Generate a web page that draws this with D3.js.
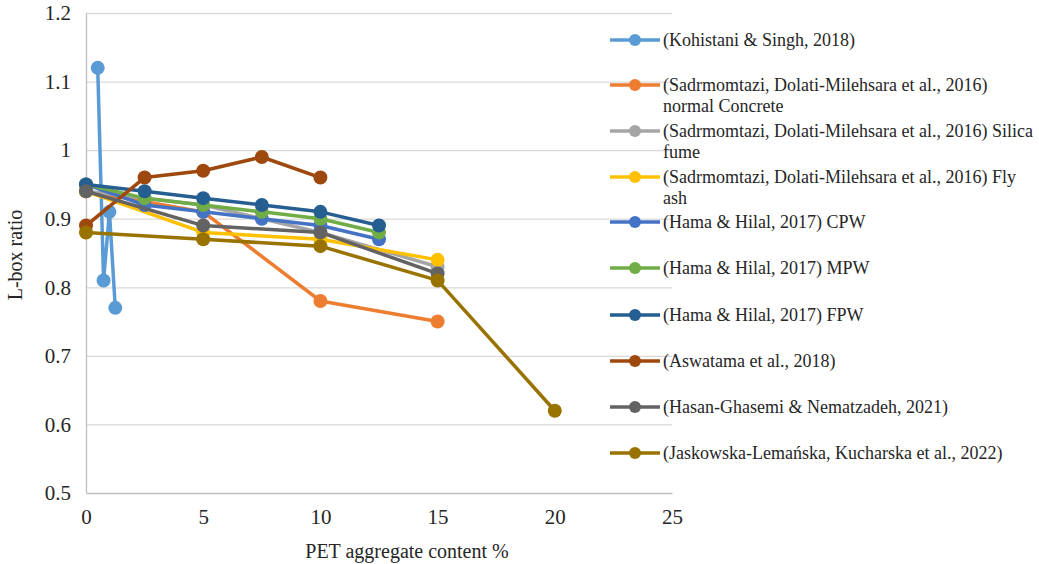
<!DOCTYPE html>
<html>
<head>
<meta charset="utf-8">
<script src="https://cdn.jsdelivr.net/npm/d3@7"></script>
<style>
  html, body { margin: 0; padding: 0; background: #fff; }
  svg { display: block; }
  text { font-family: "Liberation Serif", "DejaVu Serif", serif; fill: #262626; }
</style>
</head>
<body>
<svg id="chart" width="1039" height="564"></svg>
<script>
// L-box ratio versus PET aggregate content, by study
const seriesNames = [
  ["(Kohistani & Singh, 2018)"],
  ["(Sadrmomtazi, Dolati-Milehsara et al., 2016)", "normal Concrete"],
  ["(Sadrmomtazi, Dolati-Milehsara et al., 2016) Silica", "fume"],
  ["(Sadrmomtazi, Dolati-Milehsara et al., 2016) Fly", "ash"],
  ["(Hama & Hilal, 2017) CPW"],
  ["(Hama & Hilal, 2017) MPW"],
  ["(Hama & Hilal, 2017) FPW"],
  ["(Aswatama et al., 2018)"],
  ["(Hasan-Ghasemi & Nematzadeh, 2021)"],
  ["(Jaskowska-Lemańska, Kucharska et al., 2022)"]
];
const seriesColors = ["#5B9BD5", "#ED7D31", "#A5A5A5", "#FFC000", "#4472C4",
                      "#70AD47", "#255E91", "#9E480E", "#636363", "#997300"];

const xKohistani = [0.5, 0.75, 1.0, 1.25];
const yKohistani = [1.12, 0.81, 0.91, 0.77];
const xSadrmomtazi = [0, 5, 10, 15];
const yNormal = [0.94, 0.91, 0.78, 0.75];
const ySilica = [0.94, 0.92, 0.88, 0.83];
const yFlyAsh = [0.94, 0.88, 0.87, 0.84];
const xHama = [0, 2.5, 5, 7.5, 10, 12.5];
const yCPW = [0.95, 0.92, 0.91, 0.90, 0.89, 0.87];
const yMPW = [0.95, 0.93, 0.92, 0.91, 0.90, 0.88];
const yFPW = [0.95, 0.94, 0.93, 0.92, 0.91, 0.89];
const xAswatama = [0, 2.5, 5, 7.5, 10];
const yAswatama = [0.89, 0.96, 0.97, 0.99, 0.96];
const xHasan = [0, 5, 10, 15];
const yHasan = [0.94, 0.89, 0.88, 0.82];
const xJaskowska = [0, 5, 10, 15, 20];
const yJaskowska = [0.88, 0.87, 0.86, 0.81, 0.62];

const xTicks = [0, 5, 10, 15, 20, 25];
const yTicks = [0.5, 0.6, 0.7, 0.8, 0.9, 1.0, 1.1, 1.2];
const xTitle = "PET aggregate content %";
const yTitle = "L-box ratio";

const seriesXY = [
  [xKohistani, yKohistani],
  [xSadrmomtazi, yNormal],
  [xSadrmomtazi, ySilica],
  [xSadrmomtazi, yFlyAsh],
  [xHama, yCPW],
  [xHama, yMPW],
  [xHama, yFPW],
  [xAswatama, yAswatama],
  [xHasan, yHasan],
  [xJaskowska, yJaskowska]
];
const series = seriesXY.map(([xs, ys], i) => ({
  name: seriesNames[i],
  color: seriesColors[i],
  points: xs.map((x, j) => ({ x, y: ys[j] }))
}));

const svg = d3.select("#chart");
const plot = { left: 86, right: 672, top: 13, bottom: 493 };
const fontStack = "'Liberation Serif', 'DejaVu Serif', serif";

const x = d3.scaleLinear().domain([0, 25]).range([plot.left, plot.right]);
const y = d3.scaleLinear().domain([0.5, 1.2]).range([plot.bottom, plot.top]);

// horizontal gridlines
svg.append("g")
  .attr("transform", `translate(${plot.left},0)`)
  .call(d3.axisLeft(y).tickValues(yTicks.filter(v => v > 0.5))
    .tickSize(-(plot.right - plot.left)).tickFormat(""))
  .call(g => g.select(".domain").remove())
  .call(g => g.selectAll("line").attr("stroke", "#D9D9D9").attr("stroke-width", 1.3));

// y axis
svg.append("g")
  .attr("transform", `translate(${plot.left},0)`)
  .call(d3.axisLeft(y).tickValues(yTicks).tickSize(0).tickPadding(15)
    .tickFormat(d => d3.format("")(+d.toFixed(1))))
  .call(g => g.select(".domain").attr("stroke", "#BFBFBF").attr("stroke-width", 1.3))
  .call(g => g.selectAll("text").attr("font-size", 21).attr("fill", "#262626")
    .style("font-family", fontStack));

// x axis
svg.append("g")
  .attr("transform", `translate(0,${plot.bottom})`)
  .call(d3.axisBottom(x).tickValues(xTicks).tickSize(0).tickPadding(16))
  .call(g => g.select(".domain").attr("stroke", "#BFBFBF").attr("stroke-width", 1.3))
  .call(g => g.selectAll("text").attr("font-size", 21).attr("fill", "#262626")
    .style("font-family", fontStack));

// axis titles
svg.append("text")
  .attr("x", 407)
  .attr("y", 558)
  .attr("text-anchor", "middle")
  .attr("font-size", 20)
  .style("font-family", fontStack)
  .text(xTitle);

svg.append("text")
  .attr("transform", `translate(22,${(plot.top + plot.bottom) / 2 + 2}) rotate(-90)`)
  .attr("text-anchor", "middle")
  .attr("font-size", 20)
  .style("font-family", fontStack)
  .text(yTitle);

// series lines and markers
const line = d3.line().x(d => x(d.x)).y(d => y(d.y));
const seriesG = svg.append("g").selectAll("g").data(series).join("g");
seriesG.append("path")
  .attr("d", d => line(d.points))
  .attr("fill", "none")
  .attr("stroke", d => d.color)
  .attr("stroke-width", 3.5)
  .attr("stroke-linejoin", "round");
seriesG.selectAll("circle").data(d => d.points.map(p => ({ ...p, color: d.color })))
  .join("circle")
  .attr("cx", d => x(d.x))
  .attr("cy", d => y(d.y))
  .attr("r", 7)
  .attr("fill", d => d.color);

// legend
const legendY = [40, 85, 131, 177, 222, 268, 315, 361, 407, 453];
const legend = svg.append("g").selectAll("g").data(series).join("g")
  .attr("transform", (d, i) => `translate(610,${legendY[i]})`);
legend.append("line")
  .attr("x1", 0).attr("x2", 50).attr("y1", 0).attr("y2", 0)
  .attr("stroke", d => d.color).attr("stroke-width", 3.5);
legend.append("circle")
  .attr("cx", 25).attr("cy", 0).attr("r", 6)
  .attr("fill", d => d.color);
const maxLabelWidth = 1036 - 663;
legend.append("text")
  .attr("y", 6)
  .attr("font-size", 18)
  .style("font-family", fontStack)
  .selectAll("tspan").data(d => d.name).join("tspan")
  .attr("x", 53)
  .attr("dy", (d, i) => i === 0 ? 0 : 21)
  .text(d => d)
  .each(function () {
    // squeeze any legend line that would run past the right edge
    const w = this.getComputedTextLength();
    if (w > maxLabelWidth) {
      d3.select(this).attr("textLength", maxLabelWidth).attr("lengthAdjust", "spacingAndGlyphs");
    }
  });
</script>
</body>
</html>
